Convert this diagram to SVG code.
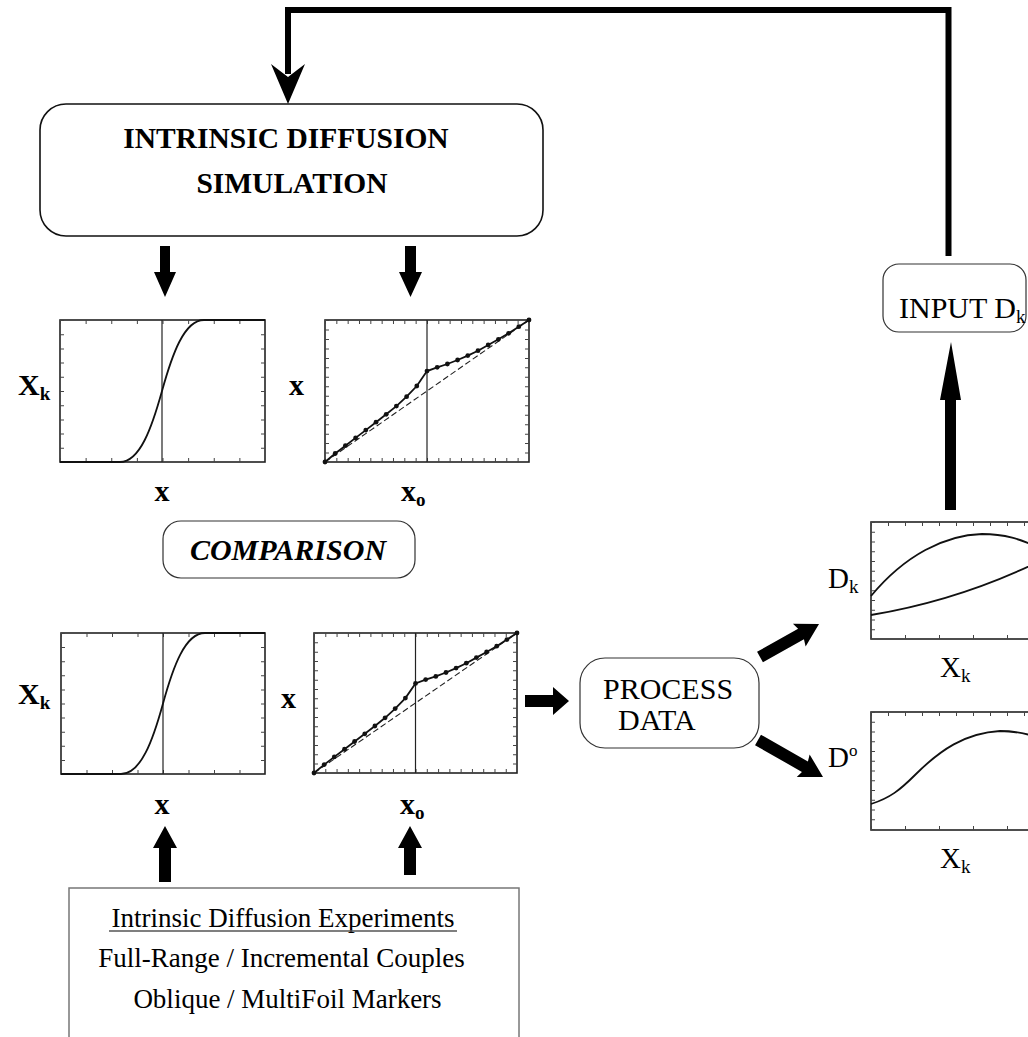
<svg xmlns="http://www.w3.org/2000/svg" width="1028" height="1037" viewBox="0 0 1028 1037">
  <style>
    .box { fill: #fff; stroke: #111; stroke-width: 1.6; }
    .thin { fill: #fff; stroke: #333; stroke-width: 1.2; }
    .frame { fill: none; stroke: #222; stroke-width: 1.6; }
    .vline { stroke: #222; stroke-width: 1.2; }
    .tick { stroke: #444; stroke-width: 4; fill: none; }
    .curve { fill: none; stroke: #111; stroke-width: 1.8; }
    .dash { fill: none; stroke: #222; stroke-width: 1.1; stroke-dasharray: 6 3; }
    .pts { fill: none; stroke: #111; stroke-width: 1.8; marker-start: url(#dot); marker-mid: url(#dot); marker-end: url(#dot); }
    .arrow { fill: #000; stroke: none; }
    .serif { font-family: "Liberation Serif", "Times New Roman", serif; fill: #000; }
    .title { font-size: 29.5px; font-weight: bold; }
    .lbl { font-size: 30px; font-weight: bold; }
    .lblr { font-size: 29px; }
    .sub { font-size: 19px; }
    .body { font-size: 27px; }
  </style>
  <defs>
    <marker id="dot" viewBox="-3 -3 6 6" markerWidth="6" markerHeight="6" markerUnits="userSpaceOnUse" refX="0" refY="0">
      <circle r="2.4" fill="#111"/>
    </marker>
  </defs>

  <!-- connectors -->
  <g id="connectors">
    <!-- feedback loop: INPUT D_k back to the simulation -->
    <polyline points="948.5,256 948.5,10 288,10 288,74" fill="none" stroke="#000" stroke-width="6"/>
    <polygon class="arrow" points="271,64 288,77 305,64 288,104"/>
    <!-- simulation to plots -->
    <polygon class="arrow" points="160,246 170,246 170,272 176,272 165,297 154,272 160,272"/>
    <polygon class="arrow" points="405,246 416,246 416,272 422,272 410.5,297 399,272 405,272"/>
    <!-- experiments to plots -->
    <polygon class="arrow" points="159,882 171,882 171,848 177,848 165,826 153,848 159,848"/>
    <polygon class="arrow" points="404,875 416,875 416,848 422,848 410,826 398,848 404,848"/>
    <!-- plots to process data -->
    <polygon class="arrow" points="525,695 553,695 553,687 569,701 553,715 553,707 525,707"/>
    <!-- process data to D plots -->
    <polygon class="arrow" transform="translate(760,657) rotate(-29.2)" points="0,-6 47,-6 45,-13 67.6,0 45,13 47,6 0,6"/>
    <polygon class="arrow" transform="translate(758,740) rotate(29.65)" points="0,-6 54,-6 52,-13 74.8,0 52,13 54,6 0,6"/>
    <!-- D_k plot to input -->
    <polygon class="arrow" points="945,510 956,510 956,400 961,400 951,342 940,400 945,400"/>
  </g>

  <!-- simulation node -->
  <g id="simulation">
    <rect class="box" x="40" y="104" width="503" height="132" rx="26"/>
    <text class="serif title" x="286" y="148" text-anchor="middle">INTRINSIC DIFFUSION</text>
    <text class="serif title" x="292" y="193" text-anchor="middle">SIMULATION</text>
  </g>

  <!-- simulated concentration profile -->
  <g id="sim-profile">
    <rect class="frame" x="60" y="320" width="205" height="142"/>
    <line class="tick" x1="60" y1="460" x2="265" y2="460" stroke-dasharray="1 24.625"/>
    <line class="tick" x1="60" y1="322" x2="265" y2="322" stroke-dasharray="1 24.625"/>
    <line class="tick" x1="62" y1="320" x2="62" y2="462" stroke-dasharray="1 13.2"/>
    <line class="tick" x1="263" y1="320" x2="263" y2="462" stroke-dasharray="1 13.2"/>
    <line class="vline" x1="162" y1="320" x2="162" y2="462"/>
    <path class="curve" d="M60,462 L120,462 C140,462 152,427 162,391 C172,355 184,320 204,320 L265,320"/>
    <text class="serif lbl" x="18" y="395">X<tspan class="sub" dy="5">k</tspan></text>
    <text class="serif lbl" x="162" y="501" text-anchor="middle">x</text>
  </g>

  <!-- simulated marker positions -->
  <g id="sim-markers">
    <rect class="frame" x="325" y="320" width="204" height="142"/>
    <line class="tick" x1="325" y1="460" x2="529" y2="460" stroke-dasharray="1 10.33"/>
    <line class="tick" x1="325" y1="322" x2="529" y2="322" stroke-dasharray="1 10.33"/>
    <line class="tick" x1="327" y1="320" x2="327" y2="462" stroke-dasharray="1 8.47"/>
    <line class="tick" x1="527" y1="320" x2="527" y2="462" stroke-dasharray="1 8.47"/>
    <line class="vline" x1="427" y1="320" x2="427" y2="462"/>
    <line class="dash" x1="325" y1="462" x2="529" y2="320"/>
    <polyline class="pts" points="325,462 335.2,453.5 345.4,445.7 355.6,437.9 365.8,430.1 376,422.2 386.2,414.3 396.4,406.1 406.6,396.7 416.8,386 427,371.1 437.2,367.3 447.4,364 457.6,360 467.8,355.6 478,350.7 488.2,345 498.4,339.3 508.6,333.3 518.8,326.7 529,320"/>
    <text class="serif lbl" x="289" y="395">x</text>
    <text class="serif lbl" x="401" y="501">x<tspan class="sub" dy="5">o</tspan></text>
  </g>

  <!-- comparison node -->
  <g id="comparison">
    <rect class="thin" x="163" y="521" width="252" height="57" rx="18"/>
    <text class="serif" x="288" y="560" text-anchor="middle" font-size="30" font-weight="bold" font-style="italic">COMPARISON</text>
  </g>

  <!-- measured concentration profile -->
  <g id="exp-profile">
    <rect class="frame" x="61" y="633" width="204" height="141"/>
    <line class="tick" x1="61" y1="772" x2="265" y2="772" stroke-dasharray="1 24.5"/>
    <line class="tick" x1="61" y1="635" x2="265" y2="635" stroke-dasharray="1 24.5"/>
    <line class="tick" x1="63" y1="633" x2="63" y2="774" stroke-dasharray="1 13.1"/>
    <line class="tick" x1="263" y1="633" x2="263" y2="774" stroke-dasharray="1 13.1"/>
    <line class="vline" x1="163" y1="633" x2="163" y2="774"/>
    <path class="curve" d="M61,774 L121,774 C141,774 153,740 163,703.5 C173,667 185,633 205,633 L265,633"/>
    <text class="serif lbl" x="18" y="704">X<tspan class="sub" dy="5">k</tspan></text>
    <text class="serif lbl" x="281" y="708">x</text>
    <text class="serif lbl" x="162" y="814" text-anchor="middle">x</text>
  </g>

  <!-- measured marker positions -->
  <g id="exp-markers">
    <rect class="frame" x="314" y="633" width="203" height="140"/>
    <line class="tick" x1="314" y1="771" x2="517" y2="771" stroke-dasharray="1 10.28"/>
    <line class="tick" x1="314" y1="635" x2="517" y2="635" stroke-dasharray="1 10.28"/>
    <line class="tick" x1="316" y1="633" x2="316" y2="773" stroke-dasharray="1 8.33"/>
    <line class="tick" x1="515" y1="633" x2="515" y2="773" stroke-dasharray="1 8.33"/>
    <line class="vline" x1="415.5" y1="633" x2="415.5" y2="773"/>
    <line class="dash" x1="314" y1="773" x2="517" y2="633"/>
    <polyline class="pts" points="314,773 324.2,764.6 334.3,756.9 344.5,749.2 354.6,741.5 364.8,733.8 374.9,726 385.1,717.8 395.2,708.6 405.4,698.1 415.5,683.4 425.7,679.6 435.8,676.4 446,672.5 456.1,668.1 466.3,663.2 476.4,657.6 486.6,652 496.7,646.2 506.9,639.6 517,633"/>
    <text class="serif lbl" x="400" y="814">x<tspan class="sub" dy="5">o</tspan></text>
  </g>

  <!-- experiments node -->
  <g id="experiments">
    <rect x="69" y="888" width="450" height="170" fill="#fff" stroke="#777" stroke-width="1.5"/>
    <text class="serif body" x="283" y="927" text-anchor="middle">Intrinsic Diffusion Experiments</text>
    <line x1="109" y1="931" x2="457" y2="931" stroke="#555" stroke-width="1.4"/>
    <text class="serif body" x="281.5" y="967" text-anchor="middle">Full-Range / Incremental Couples</text>
    <text class="serif body" x="287.5" y="1008" text-anchor="middle">Oblique / MultiFoil Markers</text>
  </g>

  <!-- process data node -->
  <g id="process-data">
    <rect class="thin" x="580" y="658" width="179" height="90" rx="25"/>
    <text class="serif" x="603" y="699" font-size="30">PROCESS</text>
    <text class="serif" x="618" y="730" font-size="30">DATA</text>
  </g>

  <!-- intrinsic diffusivities plot -->
  <g id="dk-plot">
    <rect class="frame" x="871" y="522" width="170" height="117"/>
    <line class="tick" x1="871" y1="637" x2="1041" y2="637" stroke-dasharray="1 33"/>
    <line class="tick" x1="871" y1="524" x2="1041" y2="524" stroke-dasharray="1 16"/>
    <line class="tick" x1="873" y1="522" x2="873" y2="639" stroke-dasharray="1 8.75"/>
    <path class="curve" d="M871,596 C905,555 945,535 982,534 C1005,534 1020,539 1040,548"/>
    <path class="curve" d="M871,615 Q960,600 1040,561"/>
    <text class="serif lblr" x="828" y="588">D<tspan class="sub" dy="5">k</tspan></text>
    <text class="serif lblr" x="940" y="677">X<tspan class="sub" dy="5">k</tspan></text>
  </g>

  <!-- interdiffusion coefficient plot -->
  <g id="d0-plot">
    <rect class="frame" x="871" y="712" width="170" height="118"/>
    <line class="tick" x1="871" y1="828" x2="1041" y2="828" stroke-dasharray="1 33"/>
    <line class="tick" x1="871" y1="714" x2="1041" y2="714" stroke-dasharray="1 16"/>
    <line class="tick" x1="873" y1="712" x2="873" y2="830" stroke-dasharray="1 8.75"/>
    <path class="curve" d="M871,804 C890,798 900,790 915,775 C940,750 965,733 1000,731 C1015,731 1025,733 1040,738"/>
    <text class="serif lblr" x="828" y="767">D<tspan font-size="17px" dy="-11">o</tspan></text>
    <text class="serif lblr" x="940" y="868">X<tspan class="sub" dy="5">k</tspan></text>
  </g>

  <!-- input node -->
  <g id="input-dk">
    <rect class="thin" x="883" y="264" width="143" height="68" rx="16"/>
    <text class="serif" x="899" y="318" font-size="30">INPUT D<tspan class="sub" dy="5">k</tspan></text>
  </g>
</svg>
